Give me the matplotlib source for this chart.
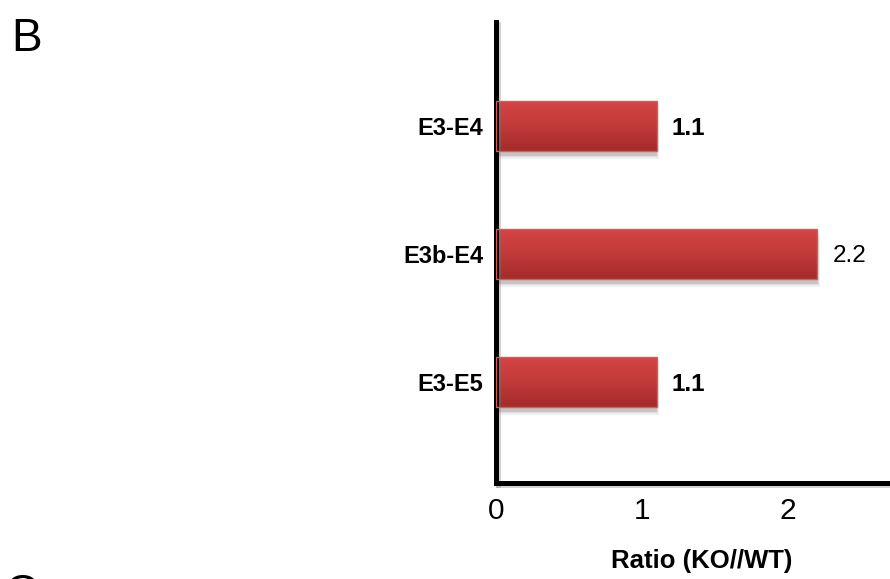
import numpy as np
import matplotlib
matplotlib.use("Agg")
import matplotlib.pyplot as plt
from matplotlib.patches import Rectangle
from matplotlib.colors import LinearSegmentedColormap
import matplotlib.patheffects as pe

plt.rcParams['font.family'] = ['Liberation Sans', 'DejaVu Sans']

# Data
categories = ["E3-E4", "E3b-E4", "E3-E5"]
ratios = [1.1, 2.2, 1.1]
value_labels = ["1.1", "2.2", "1.1"]
label_weights = ["bold", "normal", "bold"]
x_ticks = [0, 1, 2]
x_tick_labels = ["0", "1", "2"]

fig = plt.figure(figsize=(8.9, 5.79), dpi=100)
ax = fig.add_axes([496 / 890, 1 - 483 / 579, 1 - 496 / 890, (483 - 22) / 579])

ypos = np.arange(len(categories))
bar_h = 0.39
bars = ax.barh(ypos, ratios, height=bar_h, facecolor="none",
               edgecolor="#d95a5a", linewidth=1.0, zorder=3)

grad = LinearSegmentedColormap.from_list("redgrad", ["#d44444", "#c23a3a", "#a42a2a"])
for rect in bars:
    x0, y0 = rect.get_x(), rect.get_y()
    w, h = rect.get_width(), rect.get_height()
    # soft drop shadow
    for k, a in enumerate([0.10, 0.08, 0.06]):
        d = 0.006 * (k + 1)
        ax.add_patch(Rectangle((x0 + d, y0 + 0.025 + d * 2), w, h,
                               facecolor="black", edgecolor="none",
                               alpha=a, zorder=1))
    img = ax.imshow(np.linspace(0, 1, 64).reshape(-1, 1), cmap=grad,
                    extent=[x0, x0 + w, y0 + h, y0], aspect="auto",
                    origin="upper", zorder=2)
    img.set_clip_path(rect)

ax.set_xlim(0, 394 / 146)
ax.set_ylim((483 - 126) / 128, (22 - 126) / 128)

ax.set_yticks(ypos)
ax.set_yticklabels(categories, fontsize=17, fontweight="bold")
ax.set_xticks(x_ticks)
ax.set_xticklabels(x_tick_labels, fontsize=21.5)
ax.tick_params(axis="both", length=0)
ax.tick_params(axis="y", pad=9)
ax.tick_params(axis="x", pad=10)

for rect, txt, wt in zip(bars, value_labels, label_weights):
    ax.annotate(txt, (rect.get_width(), rect.get_y() + rect.get_height() / 2),
                xytext=(11, -1.5), textcoords="offset points",
                ha="left", va="center", fontsize=17.5, fontweight=wt)

for side in ("top", "right"):
    ax.spines[side].set_visible(False)
shadow = [pe.SimpleLineShadow(offset=(1.5, -1.5), shadow_color="gray", alpha=0.35),
          pe.Normal()]
for side in ("left", "bottom"):
    ax.spines[side].set_linewidth(3.6)
    ax.spines[side].set_color("black")
    ax.spines[side].set_path_effects(shadow)

fig.text(702 / 890, 1 - 561 / 579, "Ratio (KO//WT)", ha="center", va="center",
         fontsize=18.5, fontweight="bold")
fig.text(11 / 890, 1 - 17 / 579, "B", ha="left", va="top", fontsize=33)
fig.text(5 / 890, 1 - 573 / 579, "C", ha="left", va="top", fontsize=33)

fig.savefig("out.png", dpi=100)
